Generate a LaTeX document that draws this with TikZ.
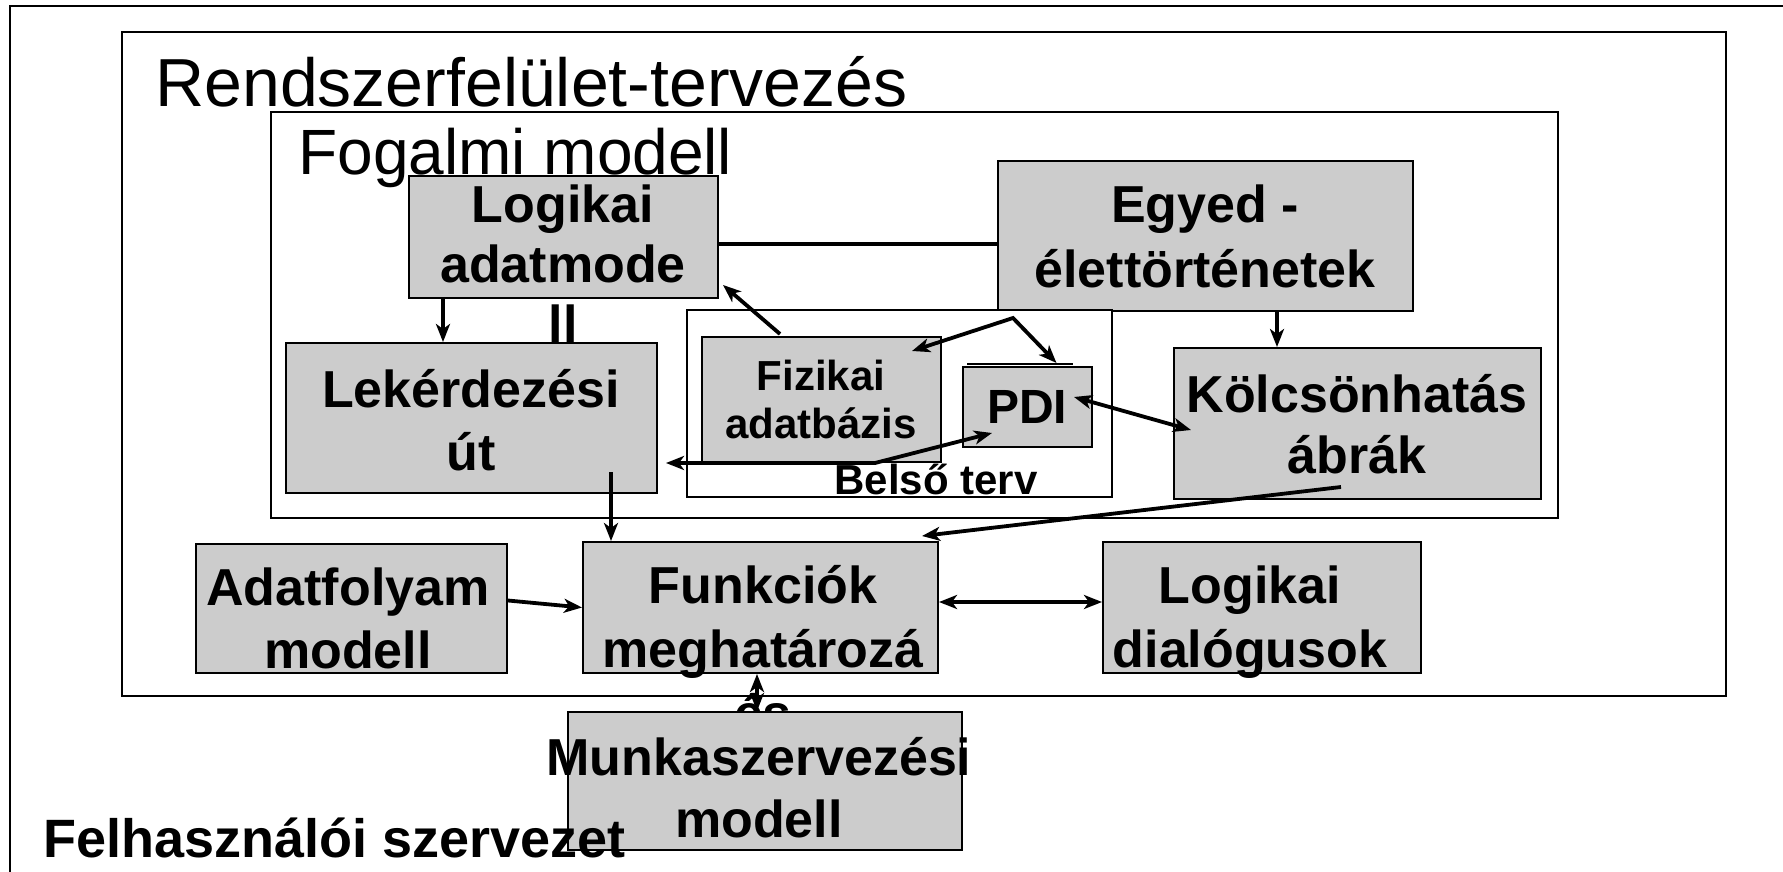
\documentclass[tikz,border=0pt]{standalone}
\usepackage{fontspec}
\setmainfont{Liberation Sans}
\usetikzlibrary{fit,arrows.meta}
\definecolor{boxgray}{RGB}{204,204,204}
\begin{document}
\begin{tikzpicture}[x=0.5pt,y=-0.5pt,
  frame/.style={draw=black,line width=1pt},
  gbox/.style={draw=black,line width=1pt,fill=boxgray,inner sep=0pt},
  wbox/.style={draw=black,line width=1pt,fill=white,inner sep=0pt},
  btxt/.style={anchor=base,align=center,inner sep=0pt,font=\bfseries\fontsize{26}{31.5}\selectfont},
  ttxt/.style={anchor=base west,inner sep=0pt},
  conn/.style={line width=1.9pt},
  arr/.style={conn,-{Stealth[length=9pt,width=7pt,inset=2.5pt]}},
  arrb/.style={conn,{Stealth[length=9pt,width=7pt,inset=2.5pt]}-{Stealth[length=9pt,width=7pt,inset=2.5pt]}},
]
\useasboundingbox (0,0) rectangle (1783,872);
% outer frame (runs off the page at right and bottom)
\draw[frame] (1783,6) -- (10,6) -- (10,872);

% Rendszerfelulet-tervezes box
\node[wbox, fit={(122,32) (1726,696)}] (sys) {};
\node[ttxt, font=\fontsize{34}{40}\selectfont] (sysT) at (155,107) {Rendszerfelület-tervezés};

% Fogalmi modell box
\node[wbox, fit={(271,112) (1558,518)}] (fog) {};
\node[ttxt, font=\fontsize{32}{38}\selectfont] (fogT) at (298,175) {Fogalmi modell};

% Logikai adatmodell
\node[gbox, fit={(409,176) (718,298)}] (log) {};
\node[btxt, font=\bfseries\fontsize{26}{30}\selectfont] (logT) at (563,342) {Logikai\\adatmode\\ll};

% Egyed-elettortenetek
\node[gbox, fit={(998,161) (1413,311)}] (egy) {};
\node[btxt, font=\bfseries\fontsize{26}{32.5}\selectfont] (egyT) at (1205,287) {Egyed -\\élettörténetek};

\draw[conn] (log.east |- 0,244) -- (egy.west |- 0,244);

% Belso terv box
\node[wbox, fit={(687,310) (1112,497)}] (bel) {};
\node[gbox, fit={(702,337) (941,462)}] (fiz) {};
\node[btxt, font=\bfseries\fontsize{21}{24}\selectfont] (fizT) at (821,438) {Fizikai\\adatbázis};
\node[gbox, fit={(963,367) (1092,447)}] (pdi) {};
\node[btxt, font=\bfseries\fontsize{24}{28}\selectfont] (pdiT) at (1027,423) {PDI};
\draw[line width=1.2pt] ([xshift=2.5pt,yshift=1pt]pdi.north west) -- ([xshift=-10pt,yshift=1pt]pdi.north east);
\node[ttxt, font=\bfseries\fontsize{21}{24}\selectfont] (belT) at (834,494) {Belső terv};

% Lekerdezesi ut
\node[gbox, fit={(286,343) (657,493)}] (lek) {};
\node[btxt] (lekT) at (471,470) {Lekérdezési\\út};

% Kolcsonhatas abrak
\node[gbox, fit={(1174,348) (1541,499)}] (kol) {};
\node[btxt, font=\bfseries\fontsize{26}{30.5}\selectfont] (kolT) at (1357,473) {Kölcsönhatás\\ábrák};

% connectors inside Fogalmi modell
\draw[arr] (log.south -| 443,0) -- (lek.north -| 443,0);
\coordinate (fizUp) at (780,334);
\draw[arr] (fizUp) -- ([xshift=2pt,yshift=7pt]log.south east);
\coordinate (vtop) at (1013,318);
\draw[arrb] ([xshift=-15pt,yshift=-7.5pt]fiz.north east) -- (vtop) -- ([xshift=14.5pt,yshift=1.5pt]pdi.north);
\coordinate (lowL) at (666,463);
\coordinate (bend) at (875,463);
\coordinate (pdiLow) at (992,433);
\draw[arrb] (lowL) -- (bend) -- (pdiLow);
\coordinate (pdiR) at (1074,397);
\coordinate (kolL) at (1191,430);
\draw[arrb] (pdiR) -- (kolL);
\draw[arr] (egy.south -| 1277,0) -- (kol.north -| 1277,0);

% lower row
\node[gbox, fit={(583,542) (938,673)}] (funk) {};
\node[btxt, font=\bfseries\fontsize{26}{32}\selectfont] (funkT) at (763,731) {Funkciók\\meghatározá\\és};
\node[gbox, fit={(196,544) (507,673)}] (ada) {};
\node[btxt] (adaT) at (348,668) {Adatfolyam\\modell};
\node[gbox, fit={(1103,542) (1421,673)}] (dia) {};
\node[btxt, font=\bfseries\fontsize{26}{32}\selectfont] (diaT) at (1250,667) {Logikai\\dialógusok};

\coordinate (lekOut) at (611,472);
\draw[arr] (lekOut) -- (lekOut |- funk.north);
\coordinate (kolOut) at (1341,487);
\draw[arr] (kolOut) -- ([xshift=-8.5pt,yshift=2.5pt]funk.north east);
\draw[arr] ([yshift=4pt]ada.east) -- (funk.west);
\draw[arrb] ([yshift=2.75pt]funk.east) -- ([yshift=2.75pt]dia.west);

% Munkaszervezesi modell
\node[gbox, fit={(568,712) (962,850)}] (munk) {};
\node[btxt, font=\bfseries\fontsize{26}{31}\selectfont] (munkT) at (759,837) {Munkaszervezési\\modell};
\draw[arrb] (funk.south -| 757,0) -- (munk.north -| 757,0);

\node[ttxt, font=\bfseries\fontsize{27}{32}\selectfont] (felh) at (43,857) {Felhasználói szervezet};
\end{tikzpicture}
\end{document}
